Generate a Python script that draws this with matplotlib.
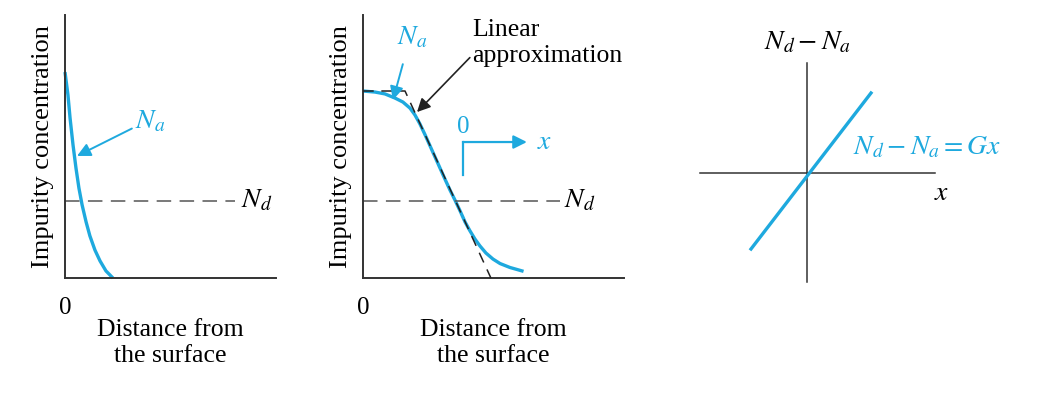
import matplotlib
matplotlib.use("Agg")
import matplotlib.pyplot as plt

plt.rcParams['font.family'] = ['Liberation Serif', 'DejaVu Serif']
plt.rcParams['mathtext.fontset'] = 'stix'

BLUE = '#1ea9de'
DARK = '#333333'
GRAY = '#555555'

# panel 1: acceptor profile near the surface
depth1 = [0.0, 0.014, 0.024, 0.038, 0.052, 0.066, 0.081, 0.100, 0.118, 0.142, 0.166, 0.194, 0.227]
na1 = [0.783, 0.696, 0.608, 0.506, 0.418, 0.342, 0.278, 0.213, 0.160, 0.106, 0.065, 0.027, 0.0]
nd_level = 0.293

# panel 2: diffused profile and its linear approximation
depth2 = [0.0, 0.046, 0.084, 0.123, 0.153, 0.180, 0.199, 0.218, 0.238, 0.257, 0.276, 0.295, 0.314,
          0.333, 0.352, 0.372, 0.391, 0.410, 0.429, 0.448, 0.471, 0.498, 0.525, 0.563, 0.609]
na2 = [0.711, 0.707, 0.700, 0.684, 0.669, 0.646, 0.620, 0.586, 0.544, 0.502, 0.460, 0.418, 0.376,
       0.335, 0.297, 0.255, 0.213, 0.179, 0.148, 0.122, 0.095, 0.072, 0.055, 0.040, 0.027]
lin_x = [0.0, 0.161, 0.49]
lin_y = [0.711, 0.711, 0.0]

# panel 3: Nd - Na = Gx
grad_x = [-0.56, 0.64]
grad_y = [-0.76, 0.80]

W, H = 1037, 394
fig = plt.figure(figsize=(W / 100, H / 100), dpi=100)


def box(x0, y0, x1, y1):
    # pixel box (top-left origin) -> figure fraction
    return [x0 / W, 1 - y1 / H, (x1 - x0) / W, (y1 - y0) / H]


def profile_axes(rect):
    ax = fig.add_axes(rect)
    ax.set_xlim(0, 1)
    ax.set_ylim(0, 1)
    for s in ['top', 'right']:
        ax.spines[s].set_visible(False)
    for s in ['left', 'bottom']:
        ax.spines[s].set_color(DARK)
        ax.spines[s].set_linewidth(1.4)
    ax.set_xticks([0])
    ax.set_xticklabels(['0'], fontsize=18)
    ax.set_yticks([])
    ax.tick_params(axis='x', length=0, pad=14)
    ax.set_ylabel('Impurity concentration', fontsize=19, labelpad=8)
    ax.set_xlabel('Distance from\nthe surface', fontsize=18.5, labelpad=0, linespacing=1.2)
    return ax


dash = (0, (9.5, 5.5))

# ---- panel 1
ax1 = profile_axes(box(65, 15, 276, 278))
ax1.plot(depth1, na1, color=BLUE, lw=2.4, solid_capstyle='butt', clip_on=False)
ax1.plot([0, 0.806], [nd_level, nd_level], color=GRAY, lw=1.1, linestyle=dash)
ax1.text(0.835, nd_level, '$N_d$', fontsize=20, va='center', ha='left')
ax1.annotate('$N_a$', xy=(0.057, 0.464), xytext=(0.33, 0.593), fontsize=20, color=BLUE,
             va='center', ha='left',
             arrowprops=dict(arrowstyle='-|>', color=BLUE, lw=1.4, mutation_scale=20,
                             shrinkA=0, shrinkB=0, relpos=(0, 0.3)))

# ---- panel 2
ax2 = profile_axes(box(363, 15, 624, 278))
ax2.plot(depth2, na2, color=BLUE, lw=2.4, zorder=2)
ax2.plot(lin_x, lin_y, color='#222222', lw=1.1, linestyle=(0, (7, 5)), zorder=3, clip_on=False)
ax2.plot([0, 0.755], [nd_level, nd_level], color=GRAY, lw=1.1, linestyle=dash)
ax2.text(0.772, nd_level, '$N_d$', fontsize=20, va='center', ha='left')
ax2.annotate('$N_a$', xy=(0.115, 0.677), xytext=(0.19, 0.913), fontsize=20, color=BLUE,
             va='center', ha='center',
             arrowprops=dict(arrowstyle='-|>', color=BLUE, lw=1.4, mutation_scale=20,
                             shrinkA=8, shrinkB=0, relpos=(0.3, 0)))
ax2.annotate('Linear\napproximation', xy=(0.207, 0.631), xytext=(0.42, 0.894), fontsize=18.5,
             va='center', ha='left', linespacing=1.2, annotation_clip=False,
             arrowprops=dict(arrowstyle='-|>', color='#222222', lw=1.2, mutation_scale=20,
                             shrinkA=0, shrinkB=0, relpos=(0, 0.25)))
# local coordinate marker
ax2.plot([0.383, 0.383], [0.392, 0.517], color=BLUE, lw=1.6)
ax2.annotate('', xy=(0.628, 0.517), xytext=(0.383, 0.517),
             arrowprops=dict(arrowstyle='-|>', color=BLUE, lw=1.6, mutation_scale=20,
                             shrinkA=0, shrinkB=0))
ax2.text(0.383, 0.574, '0', fontsize=18, color=BLUE, ha='center', va='center')
ax2.text(0.697, 0.517, '$x$', fontsize=20, color=BLUE, ha='center', va='center')

# ---- panel 3
ax3 = fig.add_axes(box(690, 20, 1000, 300))
ax3.set_xlim(-1.17, 1.93)
ax3.set_ylim(-1.27, 1.53)
ax3.axis('off')
ax3.plot([-1.07, 1.28], [0, 0], color=DARK, lw=1.1)
ax3.plot([0, 0], [-1.09, 1.10], color=DARK, lw=1.1)
ax3.plot(grad_x, grad_y, color=BLUE, lw=2.4)
ax3.text(0, 1.30, '$N_d - N_a$', fontsize=20, ha='center', va='center')
ax3.text(0.46, 0.25, '$N_d - N_a = Gx$', fontsize=20, color=BLUE, ha='left', va='center')
ax3.text(1.35, -0.20, '$x$', fontsize=20, ha='center', va='center')

fig.savefig('out.png', dpi=100)
